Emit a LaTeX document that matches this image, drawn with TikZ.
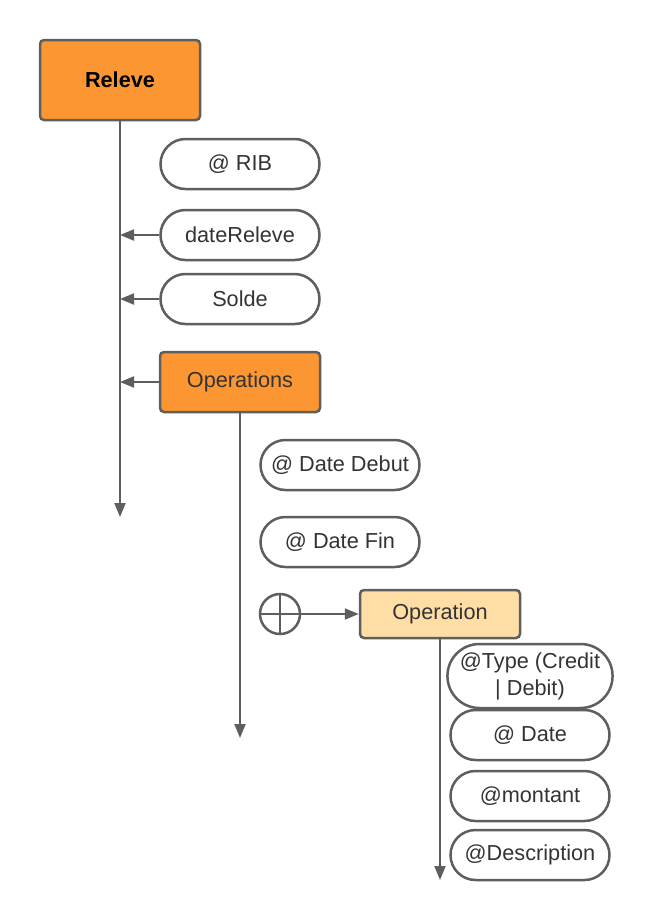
\documentclass[tikz,border=0pt]{standalone}
\usepackage{fontspec}
\setmainfont{Liberation Sans}
\usetikzlibrary{arrows.meta,shapes.misc}
\definecolor{edgegray}{HTML}{5E5E5E}
\definecolor{textgray}{HTML}{333333}
\definecolor{darkorange}{HTML}{FB9632}
\definecolor{lightorange}{HTML}{FFDEA6}
\tikzset{
	elementbox/.style={draw=edgegray,line width=2.5pt,rounded corners=4pt,minimum width=160pt,text=textgray,font=\fontsize{21.7}{25}\selectfont},
	attrpill/.style={draw=edgegray,line width=2.5pt,rounded rectangle,minimum width=163pt,minimum height=50pt,inner xsep=2pt,text=textgray,font=\fontsize{21.7}{27}\selectfont,align=center},
	link/.style={draw=edgegray,line width=2pt,-{Triangle[length=14pt,width=11pt]}}
}
\begin{document}
\begin{tikzpicture}[x=1pt,y=-1pt]
	\useasboundingbox (0,0) rectangle (650,921);
	% racine
	\node[elementbox,fill=darkorange,minimum height=80pt,text=black,font=\fontsize{21.7}{25}\selectfont\bfseries] (releve) at (120,80) {Releve};
	\node[attrpill] (rib) at (240,164) {@ RIB};
	\node[attrpill] (datereleve) at (240,235) {dateReleve};
	\node[attrpill] (solde) at (240,299) {Solde};
	\node[elementbox,fill=darkorange,minimum height=60pt] (operations) at (240,382) {Operations};
	\coordinate (releveend) at (120,517);
	\draw[link] (releve.south) -- (releveend);
	\draw[link] (datereleve.west) -- (datereleve.west -| releve.south);
	\draw[link] (solde.west) -- (solde.west -| releve.south);
	\draw[link] (operations.west) -- (operations.west -| releve.south);
	% operations
	\node[attrpill] (datedebut) at (340,465) {@ Date Debut};
	\node[attrpill] (datefin) at (340,542) {@ Date Fin};
	\node[draw=edgegray,line width=2.5pt,circle,minimum size=40pt,inner sep=0pt] (choice) at (280,614) {};
	\draw[edgegray,line width=2.5pt] (choice.north) -- (choice.south) (choice.west) -- (choice.east);
	\node[elementbox,fill=lightorange,minimum height=48pt] (operation) at (440,614) {Operation};
	\coordinate (operationsend) at (240,738);
	\draw[link] (operations.south) -- (operationsend);
	\draw[link] (choice.east) -- (operation.west);
	% operation
	\node[attrpill,minimum height=64pt] (type) at (530,676) {@Type (Credit\\| Debit)};
	\node[attrpill] (date) at (530,735) {@ Date};
	\node[attrpill] (montant) at (530,796) {@montant};
	\node[attrpill] (description) at (530,855) {@Description};
	\coordinate (operationend) at (440,880);
	\draw[link] (operation.south) -- (operationend);
\end{tikzpicture}
\end{document}
